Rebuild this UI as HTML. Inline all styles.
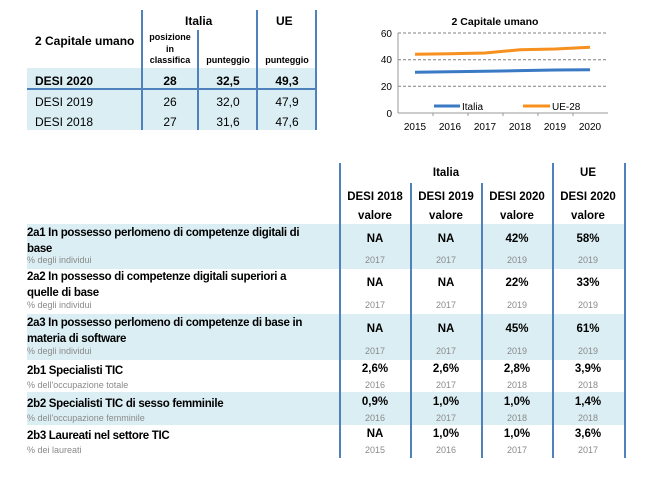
<!DOCTYPE html>
<html><head><meta charset="utf-8"><style>
body{margin:0;width:645px;height:483px;background:#fff;position:relative;overflow:hidden;font-family:"Liberation Sans",sans-serif;color:#000}
.a{position:absolute;white-space:nowrap}
.b{font-weight:bold}
.c{text-align:center;transform:translateX(-50%)}
.f{position:absolute;background:#dbeef4}
.v{position:absolute;width:2px;background:#4f81bd}
.s{font-size:9px;color:#8a8a8a}
.l{font-size:11.5px;font-weight:bold;letter-spacing:-0.3px}
.n{font-size:11.5px;font-weight:bold}
</style></head><body>
<!-- top table -->
<div class="f" style="left:27px;top:68px;width:290px;height:62px"></div>
<div class="a" style="left:27px;top:88px;width:290px;height:2px;background:#4f81bd"></div>
<div class="v" style="left:141px;top:10px;height:120px"></div>
<div class="v" style="left:197px;top:30px;height:100px"></div>
<div class="v" style="left:256px;top:10px;height:120px"></div>
<div class="v" style="left:315px;top:10px;height:120px"></div>
<div class="a b" style="left:185px;top:14px;font-size:12px">Italia</div>
<div class="a b" style="left:276px;top:14px;font-size:12px">UE</div>
<div class="a b" style="left:35px;top:34px;font-size:12px">2 Capitale umano</div>
<div class="a b c" style="left:170px;top:32px;font-size:9px;line-height:11.5px">posizione<br>in<br>classifica</div>
<div class="a b c" style="left:228px;top:55px;font-size:9px">punteggio</div>
<div class="a b c" style="left:287px;top:55px;font-size:9px">punteggio</div>
<div class="a b" style="left:35px;top:74px;font-size:12px">DESI 2020</div>
<div class="a b c" style="left:170px;top:74px;font-size:12px">28</div>
<div class="a b c" style="left:228px;top:74px;font-size:12px">32,5</div>
<div class="a b c" style="left:287px;top:74px;font-size:12px">49,3</div>
<div class="a" style="left:35px;top:95px;font-size:12px">DESI 2019</div>
<div class="a c" style="left:170px;top:95px;font-size:12px">26</div>
<div class="a c" style="left:228px;top:95px;font-size:12px">32,0</div>
<div class="a c" style="left:287px;top:95px;font-size:12px">47,9</div>
<div class="a" style="left:35px;top:115px;font-size:12px">DESI 2018</div>
<div class="a c" style="left:170px;top:115px;font-size:12px">27</div>
<div class="a c" style="left:228px;top:115px;font-size:12px">31,6</div>
<div class="a c" style="left:287px;top:115px;font-size:12px">47,6</div>
<!-- chart -->
<svg class="a" style="left:0;top:0" width="645" height="140">
<text x="495" y="25" text-anchor="middle" font-family="Liberation Sans" font-weight="bold" font-size="10.5">2 Capitale umano</text>
<g stroke="#808080" stroke-dasharray="3,2" stroke-width="1">
<line x1="398" y1="33" x2="608" y2="33"/><line x1="398" y1="59.7" x2="608" y2="59.7"/><line x1="398" y1="86.3" x2="608" y2="86.3"/>
</g>
<line x1="398" y1="33" x2="398" y2="113" stroke="#999"/>
<line x1="398" y1="113" x2="608" y2="113" stroke="#999"/>
<g stroke="#999"><line x1="433" y1="113" x2="433" y2="116"/><line x1="468" y1="113" x2="468" y2="116"/><line x1="503" y1="113" x2="503" y2="116"/><line x1="538" y1="113" x2="538" y2="116"/><line x1="573" y1="113" x2="573" y2="116"/></g>
<g font-family="Liberation Sans" font-size="10" fill="#000" text-anchor="end">
<text x="392" y="37">60</text><text x="392" y="63">40</text><text x="392" y="90">20</text><text x="392" y="117">0</text></g>
<g font-family="Liberation Sans" font-size="10" text-anchor="middle">
<text x="415" y="130">2015</text><text x="450" y="130">2016</text><text x="485" y="130">2017</text><text x="520" y="130">2018</text><text x="555" y="130">2019</text><text x="590" y="130">2020</text></g>
<polyline fill="none" stroke="#3a7ac5" stroke-width="3" points="415,72.3 450,71.7 485,71.3 520,70.6 555,70 590,69.7"/>
<polyline fill="none" stroke="#f7901e" stroke-width="3" points="415,54.3 450,53.7 485,53 520,49.7 555,49 590,47.2"/>
<line x1="434" y1="106" x2="460" y2="106" stroke="#3a7ac5" stroke-width="3"/>
<text x="462" y="110" font-family="Liberation Sans" font-size="10">Italia</text>
<line x1="523" y1="106" x2="550" y2="106" stroke="#f7901e" stroke-width="3"/>
<text x="552" y="110" font-family="Liberation Sans" font-size="10">UE-28</text>
</svg>
<!-- bottom table -->
<div class="f" style="left:27px;top:224px;width:598px;height:45px"></div>
<div class="f" style="left:27px;top:314px;width:598px;height:46px"></div>
<div class="f" style="left:27px;top:392px;width:598px;height:33px"></div>
<div class="v" style="left:339px;top:163px;height:295px"></div>
<div class="v" style="left:410px;top:183px;height:275px"></div>
<div class="v" style="left:481px;top:183px;height:275px"></div>
<div class="v" style="left:552px;top:163px;height:295px"></div>
<div class="v" style="left:624px;top:163px;height:295px"></div>
<div class="a b c" style="left:446px;top:167px;font-size:11.5px">Italia</div>
<div class="a b c" style="left:588px;top:167px;font-size:11.5px">UE</div>
<div class="a b c" style="left:375px;top:188px;font-size:11.5px;line-height:19px">DESI 2018<br>valore</div>
<div class="a b c" style="left:446px;top:188px;font-size:11.5px;line-height:19px">DESI 2019<br>valore</div>
<div class="a b c" style="left:517px;top:188px;font-size:11.5px;line-height:19px">DESI 2020<br>valore</div>
<div class="a b c" style="left:588px;top:188px;font-size:11.5px;line-height:19px">DESI 2020<br>valore</div>

<div class="a l" style="left:27px;top:225px;line-height:16px">2a1 In possesso perlomeno di competenze digitali di<br>base</div>
<div class="a s" style="left:27px;top:255px">% degli individui</div>
<div class="a l" style="left:27px;top:269px;line-height:16px">2a2 In possesso di competenze digitali superiori a<br>quelle di base</div>
<div class="a s" style="left:27px;top:300px">% degli individui</div>
<div class="a l" style="left:27px;top:315px;line-height:16px">2a3 In possesso perlomeno di competenze di base in<br>materia di software</div>
<div class="a s" style="left:27px;top:346px">% degli individui</div>
<div class="a l" style="left:27px;top:365px">2b1 Specialisti TIC</div>
<div class="a s" style="left:27px;top:380px">% dell'occupazione totale</div>
<div class="a l" style="left:27px;top:398px">2b2 Specialisti TIC di sesso femminile</div>
<div class="a s" style="left:27px;top:413px">% dell'occupazione femminile</div>
<div class="a l" style="left:27px;top:430px">2b3 Laureati nel settore TIC</div>
<div class="a s" style="left:27px;top:445px">% dei laureati</div>

<!-- values -->
<div class="a n c" style="left:375px;top:233px">NA</div><div class="a n c" style="left:446px;top:233px">NA</div><div class="a n c" style="left:517px;top:233px">42%</div><div class="a n c" style="left:588px;top:233px">58%</div>
<div class="a s c" style="left:375px;top:255px">2017</div><div class="a s c" style="left:446px;top:255px">2017</div><div class="a s c" style="left:517px;top:255px">2019</div><div class="a s c" style="left:588px;top:255px">2019</div>
<div class="a n c" style="left:375px;top:277px">NA</div><div class="a n c" style="left:446px;top:277px">NA</div><div class="a n c" style="left:517px;top:277px">22%</div><div class="a n c" style="left:588px;top:277px">33%</div>
<div class="a s c" style="left:375px;top:300px">2017</div><div class="a s c" style="left:446px;top:300px">2017</div><div class="a s c" style="left:517px;top:300px">2019</div><div class="a s c" style="left:588px;top:300px">2019</div>
<div class="a n c" style="left:375px;top:323px">NA</div><div class="a n c" style="left:446px;top:323px">NA</div><div class="a n c" style="left:517px;top:323px">45%</div><div class="a n c" style="left:588px;top:323px">61%</div>
<div class="a s c" style="left:375px;top:346px">2017</div><div class="a s c" style="left:446px;top:346px">2017</div><div class="a s c" style="left:517px;top:346px">2019</div><div class="a s c" style="left:588px;top:346px">2019</div>
<div class="a n c" style="left:375px;top:363px">2,6%</div><div class="a n c" style="left:446px;top:363px">2,6%</div><div class="a n c" style="left:517px;top:363px">2,8%</div><div class="a n c" style="left:588px;top:363px">3,9%</div>
<div class="a s c" style="left:375px;top:380px">2016</div><div class="a s c" style="left:446px;top:380px">2017</div><div class="a s c" style="left:517px;top:380px">2018</div><div class="a s c" style="left:588px;top:380px">2018</div>
<div class="a n c" style="left:375px;top:396px">0,9%</div><div class="a n c" style="left:446px;top:396px">1,0%</div><div class="a n c" style="left:517px;top:396px">1,0%</div><div class="a n c" style="left:588px;top:396px">1,4%</div>
<div class="a s c" style="left:375px;top:413px">2016</div><div class="a s c" style="left:446px;top:413px">2017</div><div class="a s c" style="left:517px;top:413px">2018</div><div class="a s c" style="left:588px;top:413px">2018</div>
<div class="a n c" style="left:375px;top:428px">NA</div><div class="a n c" style="left:446px;top:428px">1,0%</div><div class="a n c" style="left:517px;top:428px">1,0%</div><div class="a n c" style="left:588px;top:428px">3,6%</div>
<div class="a s c" style="left:375px;top:445px">2015</div><div class="a s c" style="left:446px;top:445px">2016</div><div class="a s c" style="left:517px;top:445px">2017</div><div class="a s c" style="left:588px;top:445px">2017</div>
</body></html>
